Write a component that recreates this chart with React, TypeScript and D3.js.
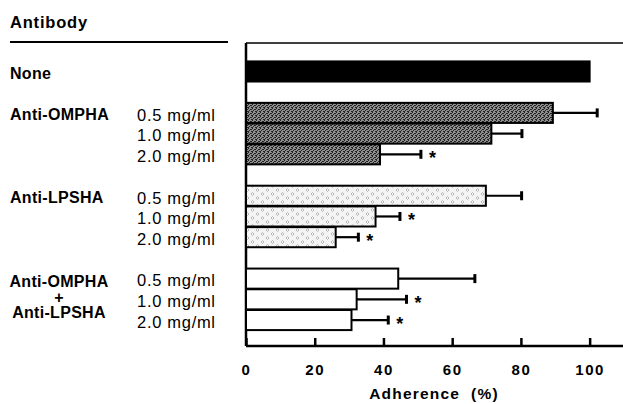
import React, { useRef, useEffect } from "react";
import * as d3 from "d3";

// rows of the chart, top to bottom
const rowGroups = ["none", "omp", "omp", "omp", "lps", "lps", "lps", "combo", "combo", "combo"];
const rowDoses = ["", "0.5 mg/ml", "1.0 mg/ml", "2.0 mg/ml", "0.5 mg/ml", "1.0 mg/ml", "2.0 mg/ml", "0.5 mg/ml", "1.0 mg/ml", "2.0 mg/ml"];
const adherence = [100, 89.3, 71.4, 39, 69.8, 37.7, 26.1, 44.3, 32.2, 30.7];
const errors = [0, 12.9, 8.9, 11.9, 10.4, 7.1, 6.6, 22.3, 14.5, 10.7];
const significant = [false, false, false, true, false, true, true, false, true, true];

const groupLabels: Record<string, string[]> = {
  none: ["None"],
  omp: ["Anti-OMPHA"],
  lps: ["Anti-LPSHA"],
  combo: ["Anti-OMPHA", "+", "Anti-LPSHA"],
};
const groupFill: Record<string, string> = {
  none: "#000",
  omp: "url(#pat-omp)",
  lps: "url(#pat-lps)",
  combo: "#fff",
};
const xTicks = [0, 20, 40, 60, 80, 100];

const FONT = "'Liberation Sans', Arial, Helvetica, sans-serif";

const App = () => {
  const svgRef = useRef<SVGSVGElement>(null);

  useEffect(() => {
    const svg = d3.select(svgRef.current);
    svg.selectAll("*").remove();

    const width = 623;
    const height = 404;
    const axisY = 346;
    const frameTop = 43;

    svg.attr("width", width).attr("height", height);

    // fill patterns
    const defs = svg.append("defs");
    const pOmp = defs
      .append("pattern")
      .attr("id", "pat-omp")
      .attr("patternUnits", "userSpaceOnUse")
      .attr("width", 4)
      .attr("height", 4);
    pOmp.append("rect").attr("width", 4).attr("height", 4).attr("fill", "#8e8e8e");
    [[0, 0], [2, 1], [1, 2], [3, 3], [3, 1], [0, 3]].forEach(([px, py]) => {
      pOmp.append("rect").attr("x", px).attr("y", py).attr("width", 1).attr("height", 1).attr("fill", "#222");
    });

    const pLps = defs
      .append("pattern")
      .attr("id", "pat-lps")
      .attr("patternUnits", "userSpaceOnUse")
      .attr("width", 10)
      .attr("height", 8);
    pLps.append("rect").attr("width", 10).attr("height", 8).attr("fill", "#f4f4f4");
    pLps
      .append("path")
      .attr("d", "M2.5,0.5 L4,2 L2.5,3.5 L1,2 Z M7.5,4.5 L9,6 L7.5,7.5 L6,6 Z")
      .attr("fill", "none")
      .attr("stroke", "#aaa")
      .attr("stroke-width", 0.8);

    // insert an empty slot between groups
    const slots: string[] = [];
    const rowSlot: string[] = [];
    rowGroups.forEach((grp, i) => {
      if (i > 0 && grp !== rowGroups[i - 1]) slots.push(`gap${i}`);
      slots.push(`row${i}`);
      rowSlot.push(`row${i}`);
    });

    const y = d3.scaleBand().domain(slots).range([61, 330.5]).paddingInner(0.03).paddingOuter(0.02);
    const x = d3.scaleLinear().domain([0, 110]).range([246, 624]);

    const rows = adherence.map((v, i) => ({
      value: v,
      err: errors[i],
      sig: significant[i],
      group: rowGroups[i],
      dose: rowDoses[i],
      slot: rowSlot[i],
    }));

    // header
    svg
      .append("text")
      .attr("x", 10)
      .attr("y", 28)
      .attr("font-family", FONT)
      .attr("font-weight", "bold")
      .attr("font-size", 16.5)
      .attr("letter-spacing", 0.8)
      .text("Antibody");
    svg
      .append("line")
      .attr("x1", 10)
      .attr("x2", 228)
      .attr("y1", 42)
      .attr("y2", 42)
      .attr("stroke", "#000")
      .attr("stroke-width", 2);

    // frame
    svg
      .append("line")
      .attr("x1", x(0))
      .attr("x2", width)
      .attr("y1", frameTop)
      .attr("y2", frameTop)
      .attr("stroke", "#000")
      .attr("stroke-width", 1.5);
    svg
      .append("line")
      .attr("x1", x(0))
      .attr("x2", x(0))
      .attr("y1", frameTop)
      .attr("y2", axisY)
      .attr("stroke", "#000")
      .attr("stroke-width", 2.5);

    // bars
    const bw = y.bandwidth();
    const barG = svg.append("g");
    barG
      .selectAll("rect")
      .data(rows)
      .enter()
      .append("rect")
      .attr("x", x(0))
      .attr("y", (d) => y(d.slot)!)
      .attr("width", (d) => x(d.value) - x(0))
      .attr("height", bw)
      .attr("fill", (d) => groupFill[d.group])
      .attr("stroke", "#000")
      .attr("stroke-width", 2);

    // error bars
    const errRows = rows.filter((d) => d.err > 0);
    const errG = svg.append("g").attr("stroke", "#000");
    errG
      .selectAll(".whisker")
      .data(errRows)
      .enter()
      .append("line")
      .attr("x1", (d) => x(d.value))
      .attr("x2", (d) => x(d.value + d.err))
      .attr("y1", (d) => y(d.slot)! + bw / 2)
      .attr("y2", (d) => y(d.slot)! + bw / 2)
      .attr("stroke-width", 2.2);
    errG
      .selectAll(".cap")
      .data(errRows)
      .enter()
      .append("line")
      .attr("x1", (d) => x(d.value + d.err))
      .attr("x2", (d) => x(d.value + d.err))
      .attr("y1", (d) => y(d.slot)! + bw / 2 - 4.5)
      .attr("y2", (d) => y(d.slot)! + bw / 2 + 4.5)
      .attr("stroke-width", 3);

    // significance stars
    svg
      .append("g")
      .selectAll("text")
      .data(rows.filter((d) => d.sig))
      .enter()
      .append("text")
      .attr("x", (d) => x(d.value + d.err) + 8)
      .attr("y", (d) => y(d.slot)! + bw / 2 + 10)
      .attr("font-family", FONT)
      .attr("font-weight", "bold")
      .attr("font-size", 18)
      .text("*");

    // dose labels
    svg
      .append("g")
      .selectAll("text")
      .data(rows.filter((d) => d.dose !== ""))
      .enter()
      .append("text")
      .attr("x", 137)
      .attr("y", (d) => y(d.slot)! + bw / 2 + 2)
      .attr("dy", "0.35em")
      .attr("font-family", FONT)
      .attr("font-size", 16.5)
      .attr("letter-spacing", 0.7)
      .text((d) => d.dose);

    // group labels
    const labelG = svg.append("g").attr("font-family", FONT).attr("font-weight", "bold").attr("font-size", 16);
    Object.keys(groupLabels).forEach((grp) => {
      const idx = rows.map((d) => d.group).indexOf(grp);
      const members = rows.filter((d) => d.group === grp);
      const lines = groupLabels[grp];
      if (lines.length === 1) {
        labelG
          .append("text")
          .attr("x", 10)
          .attr("y", y(rows[idx].slot)! + bw / 2 + 2)
          .attr("dy", "0.35em")
          .attr("letter-spacing", 0.3)
          .text(lines[0]);
      } else {
        const mid = members[Math.floor(members.length / 2)];
        const cy = y(mid.slot)! + bw / 2 - 2;
        lines.forEach((t, k) => {
          labelG
            .append("text")
            .attr("x", 59)
            .attr("y", cy + (k - 1) * 15.5)
            .attr("dy", "0.35em")
            .attr("text-anchor", "middle")
            .attr("letter-spacing", 0.3)
            .text(t);
        });
      }
    });

    // x axis
    const axis = svg
      .append("g")
      .attr("transform", `translate(0,${axisY})`)
      .call(d3.axisBottom(x).tickValues(xTicks).tickSize(-8).tickSizeOuter(0).tickPadding(18));
    axis.select(".domain").attr("stroke", "#000").attr("stroke-width", 2.5).attr("d", `M${x(0)},0H${width}`);
    axis.selectAll(".tick line").attr("stroke", "#000").attr("stroke-width", 2.5);
    axis
      .selectAll(".tick text")
      .attr("fill", "#000")
      .attr("font-family", FONT)
      .attr("font-weight", "bold")
      .attr("font-size", 15)
      .attr("letter-spacing", 1.6);

    svg
      .append("text")
      .attr("x", 434)
      .attr("y", 399)
      .attr("text-anchor", "middle")
      .attr("font-family", FONT)
      .attr("font-weight", "bold")
      .attr("font-size", 15.5)
      .attr("letter-spacing", 1.2)
      .style("white-space", "pre")
      .text("Adherence  (%)");
  }, []);

  return (
    <svg
      ref={svgRef}
      style={{ position: "absolute", left: 0, top: 0, background: "#fff" }}
    ></svg>
  );
};

export default App;
